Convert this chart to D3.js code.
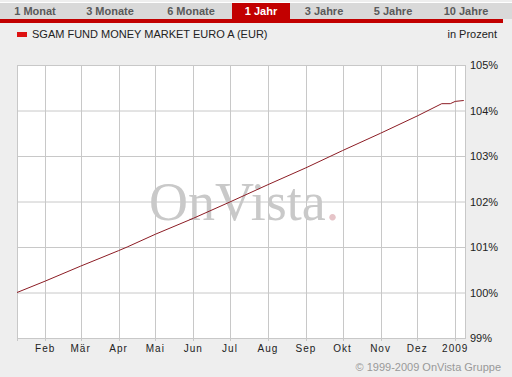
<!DOCTYPE html>
<html>
<head>
<meta charset="utf-8">
<script src="https://cdn.jsdelivr.net/npm/d3@7"></script>
<style>
  body { margin: 0; background: #eeeeee; }
  svg { display: block; font-family: "Liberation Sans", Arial, sans-serif; }
</style>
</head>
<body>
<svg></svg>
<script>
const width = 512;
const height = 377;

const tabs = ["1 Monat", "3 Monate", "6 Monate", "1 Jahr", "3 Jahre", "5 Jahre", "10 Jahre"];
const activeTab = "1 Jahr";
const seriesName = "SGAM FUND MONEY MARKET EURO A (EUR)";

const dates = ["2008-01-09", "2008-02-01", "2008-03-01", "2008-04-01", "2008-04-08", "2008-05-01",
    "2008-06-01", "2008-07-01", "2008-08-01", "2008-09-01", "2008-10-01", "2008-11-01",
    "2008-12-01", "2008-12-21", "2008-12-28", "2009-01-01", "2009-01-08"];
const values = [100.00, 100.25, 100.58, 100.92, 101.00, 101.28,
    101.63, 101.99, 102.37, 102.74, 103.12, 103.50,
    103.88, 104.15, 104.15, 104.20, 104.22];

const monthTicks = ["2008-02-01", "2008-03-01", "2008-04-01", "2008-05-01", "2008-06-01", "2008-07-01",
    "2008-08-01", "2008-09-01", "2008-10-01", "2008-11-01", "2008-12-01", "2009-01-01"];
const monthLabels = ["Feb", "Mär", "Apr", "Mai", "Jun", "Jul", "Aug", "Sep", "Okt", "Nov", "Dez", "2009"];
const percentTicks = [99, 100, 101, 102, 103, 104, 105];

const parse = d3.timeParse("%Y-%m-%d");

const svg = d3.select("svg")
    .attr("width", width)
    .attr("height", height);

// tab bar
svg.append("rect").attr("x", 0).attr("y", 2).attr("width", width).attr("height", 1).attr("fill", "#ffffff");
svg.append("rect").attr("x", 0).attr("y", 3).attr("width", width).attr("height", 16).attr("fill", "#d9d9d9");

// tab centres as laid out in the original header
const tabX = d3.scaleOrdinal()
    .domain(tabs)
    .range([35, 110, 191, 261, 324, 393, 466]);

svg.append("rect")
    .attr("x", tabX(activeTab) - 29)
    .attr("y", 3)
    .attr("width", 58)
    .attr("height", 17)
    .attr("fill", "#c20000");

svg.selectAll(".tab")
    .data(tabs)
    .enter()
    .append("text")
    .attr("class", "tab")
    .attr("x", d => tabX(d))
    .attr("y", 15)
    .attr("text-anchor", "middle")
    .attr("font-size", 11)
    .attr("font-weight", "bold")
    .attr("fill", d => d === activeTab ? "#ffffff" : "#5a5a5a")
    .text(d => d);

svg.append("rect").attr("x", 0).attr("y", 19).attr("width", 503).attr("height", 4).attr("fill", "#c20000");

// legend
svg.append("rect").attr("x", 17).attr("y", 32).attr("width", 10).attr("height", 5).attr("fill", "#dd1111");
svg.append("text").attr("x", 32).attr("y", 38).attr("font-size", 11).attr("fill", "#222")
    .text(seriesName);
svg.append("text").attr("x", 497).attr("y", 38).attr("font-size", 11).attr("fill", "#222")
    .attr("text-anchor", "end").text("in Prozent");

// plot
const x = d3.scaleTime()
    .domain([parse("2008-01-09"), parse("2009-01-09")])
    .range([17, 465]);

const y = d3.scaleLinear()
    .domain([99, 105])
    .range([338, 65]);

svg.append("rect")
    .attr("x", x.range()[0])
    .attr("y", y(105))
    .attr("width", x.range()[1] - x.range()[0])
    .attr("height", y(99) - y(105))
    .attr("fill", "#ffffff");

const grid = svg.append("g").attr("stroke", "#c8c8c8").attr("stroke-width", 1);

grid.selectAll(".hgrid")
    .data(percentTicks)
    .enter()
    .append("line")
    .attr("x1", x.range()[0])
    .attr("x2", x.range()[1])
    .attr("y1", d => y(d) + 0.5)
    .attr("y2", d => y(d) + 0.5);

grid.selectAll(".vgrid")
    .data(monthTicks)
    .enter()
    .append("line")
    .attr("x1", d => Math.round(x(parse(d))) + 0.5)
    .attr("x2", d => Math.round(x(parse(d))) + 0.5)
    .attr("y1", y(105))
    .attr("y2", y(99) + 3);

grid.append("line")
    .attr("x1", x.range()[0] + 0.5).attr("x2", x.range()[0] + 0.5)
    .attr("y1", y(105)).attr("y2", y(99) + 3);
grid.append("line")
    .attr("x1", x.range()[1] + 0.5).attr("x2", x.range()[1] + 0.5)
    .attr("y1", y(105)).attr("y2", y(99) + 1);

// watermark
const mark = svg.append("text")
    .attr("x", 149)
    .attr("y", 220)
    .attr("font-family", "'Liberation Serif', 'Times New Roman', serif")
    .attr("font-size", 54)
    .attr("fill", "#c9c9c9");
mark.append("tspan").text("OnVista");
mark.append("tspan").attr("fill", "#e6c4c8").text(".");

// series line
const line = d3.line()
    .x((d, i) => x(parse(dates[i])))
    .y(d => y(d));

svg.append("path")
    .datum(values)
    .attr("fill", "none")
    .attr("stroke", "#8c1c24")
    .attr("stroke-width", 1)
    .attr("d", line);

// axis labels
svg.selectAll(".xlabel")
    .data(monthTicks)
    .enter()
    .append("text")
    .attr("x", d => x(parse(d)))
    .attr("y", 352)
    .attr("text-anchor", "middle")
    .attr("font-size", 10)
    .attr("letter-spacing", 1)
    .attr("fill", "#222")
    .text((d, i) => monthLabels[i]);

svg.selectAll(".ylabel")
    .data(percentTicks)
    .enter()
    .append("text")
    .attr("x", 470)
    .attr("y", d => y(d) + 4)
    .attr("font-size", 11)
    .attr("fill", "#222")
    .text(d => d + "%");

svg.append("text")
    .attr("x", 501)
    .attr("y", 371)
    .attr("text-anchor", "end")
    .attr("font-size", 11)
    .attr("fill", "#999999")
    .text("© 1999-2009 OnVista Gruppe");
</script>
</body>
</html>
